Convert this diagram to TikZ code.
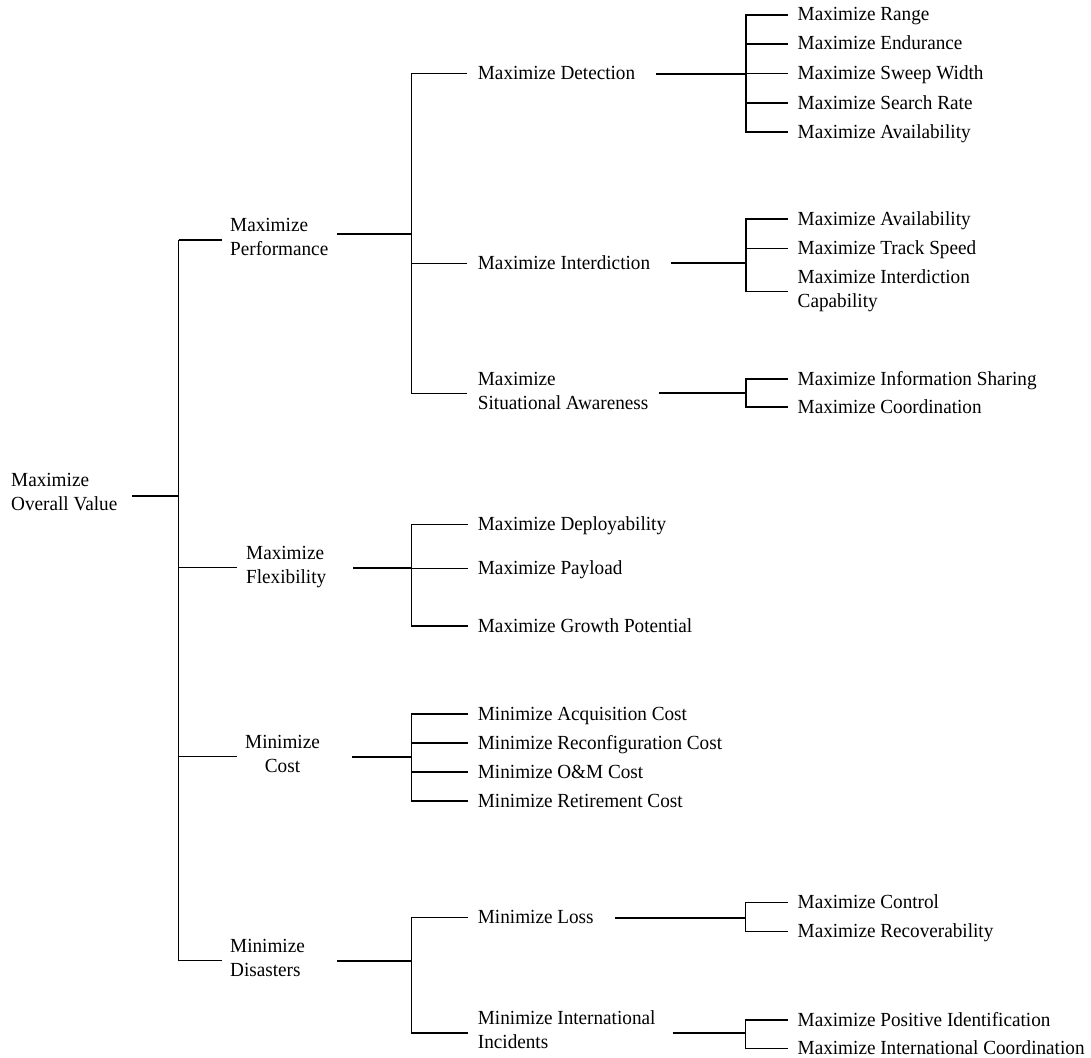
\documentclass[tikz,border=0pt]{standalone}
\usepackage{fontspec}
\setmainfont{Liberation Serif}[FakeStretch=0.96]
\newcommand\lblfont{\fontsize{20pt}{24pt}\selectfont}
% fixed line height so every label sits on its connector the same way
\newcommand\lblstrut{\vrule height 18pt depth 6pt width 0pt}

\begin{document}
\begin{tikzpicture}[x=1pt,y=-1pt,
  lbl/.style={anchor=west, inner sep=0pt, align=left, font=\lblfont,
              execute at begin node=\lblstrut, execute at end node=\lblstrut},
  br/.style={line width=1.45pt},
  conn/.style={line width=2pt}]
\useasboundingbox (0,0) rectangle (1091,1057);

% ---- labels: root and first level
\node[lbl] (root) at (11,494.5) {Maximize\\Overall Value};
\node[lbl] (perf) at (230,240) {Maximize\\Performance};
\node[lbl] (flex) at (246,567.5) {Maximize\\Flexibility};
\node[lbl,align=center] (cost) at (245,756.5) {Minimize\\Cost};
\node[lbl] (dis) at (230,960.5) {Minimize\\Disasters};

% ---- second level
\node[lbl] (det)  at (477.7,73.5)  {Maximize Detection};
\node[lbl] (intd) at (477.7,263.3) {Maximize Interdiction};
\node[lbl] (sa)   at (477.7,393.6) {Maximize\\Situational Awareness};
\node[lbl] (dep)  at (477.7,524.3) {Maximize Deployability};
\node[lbl] (pay)  at (477.7,568.3) {Maximize Payload};
\node[lbl] (grow) at (477.7,626)   {Maximize Growth Potential};
\node[lbl] (acq)  at (477.7,714)   {Minimize Acquisition Cost};
\node[lbl] (rec)  at (477.7,743)   {Minimize Reconfiguration Cost};
\node[lbl] (om)   at (477.7,772)   {Minimize O\&M Cost};
\node[lbl] (ret)  at (477.7,801)   {Minimize Retirement Cost};
\node[lbl] (loss) at (477.7,917.7) {Minimize Loss};
\node[lbl] (intl) at (477.7,1033)  {Minimize International\\Incidents};

% ---- leaves
\node[lbl] (range)  at (797.5,15)    {Maximize Range};
\node[lbl] (endur)  at (797.5,44)    {Maximize Endurance};
\node[lbl] (sweep)  at (797.5,73.5)  {Maximize Sweep Width};
\node[lbl] (srate)  at (797.5,103)   {Maximize Search Rate};
\node[lbl] (avla)   at (797.5,132)   {Maximize Availability};
\node[lbl] (avlb)   at (797.5,219)   {Maximize Availability};
\node[lbl] (track)  at (797.5,248.3) {Maximize Track Speed};
\node[lbl] (icap)   at (797.5,291.5) {Maximize Interdiction\\Capability};
\node[lbl] (info)   at (797.5,379)   {Maximize Information Sharing};
\node[lbl] (coord)  at (797.5,407)   {Maximize Coordination};
\node[lbl] (ctrl)   at (797.5,902.7) {Maximize Control};
\node[lbl] (recov)  at (797.5,931.7) {Maximize Recoverability};
\node[lbl] (posid)  at (797.5,1020)  {Maximize Positive Identification};
\node[lbl] (icoord) at (797.5,1048.3){Maximize International Coordination};

% ---- junction points
\coordinate (jR)   at (178.5,495.5);
\coordinate (jP)   at (411.5,233.7);
\coordinate (jF)   at (411.7,568.3);
\coordinate (jC)   at (411.7,757.3);
\coordinate (jD)   at (411.7,960.5);
\coordinate (jDet) at (746,73.5);
\coordinate (jInt) at (746,263.3);
\coordinate (jSA)  at (746,393.3);
\coordinate (jL)   at (745.7,917.7);
\coordinate (jI)   at (745.7,1033.3);

% ---- trunk
\draw[conn] (root.east |- jR) ++(15,0) -- (jR);
\draw[br] (jR |- perf.west) -- (jR |- dis.west);
\draw[br] (jR |- perf.west) -- ([xshift=-8pt]perf.west);
\draw[br] (jR |- flex.west) -- ([xshift=-9pt]flex.west);
\draw[br] (jR |- cost.west) -- ([xshift=-8pt]cost.west);
\draw[br] (jR |- dis.west)  -- ([xshift=-8pt]dis.west);

% ---- performance
\draw[conn] (perf.east |- jP) ++(9,0) -- (jP);
\draw[br] ([xshift=-11pt]det.west) -- (jP |- det.west) -- (jP |- sa.west) -- ([xshift=-11pt]sa.west);
\draw[br] (jP |- intd.west) -- ([xshift=-11pt]intd.west);

\draw[conn] (det.east |- jDet) ++(21,0) -- (jDet);
\draw[br] ([xshift=-9.2pt]range.west) -- (jDet |- range.west) -- (jDet |- avla.west) -- ([xshift=-9.2pt]avla.west);
\draw[br] (jDet |- endur.west) -- ([xshift=-9.2pt]endur.west);
\draw[br] (jDet |- sweep.west) -- ([xshift=-9.2pt]sweep.west);
\draw[br] (jDet |- srate.west) -- ([xshift=-9.2pt]srate.west);

\draw[conn] (intd.east |- jInt) ++(21,0) -- (jInt);
\draw[br] ([xshift=-9.2pt]avlb.west) -- (jInt |- avlb.west) -- (jInt |- icap.west) -- ([xshift=-9.2pt]icap.west);
\draw[br] (jInt |- track.west) -- ([xshift=-9.2pt]track.west);

\draw[conn] (sa.east |- jSA) ++(10,0) -- (jSA);
\draw[br] ([xshift=-9.2pt]info.west) -- (jSA |- info.west) -- (jSA |- coord.west) -- ([xshift=-9.2pt]coord.west);

% ---- flexibility
\draw[conn] (flex.east |- jF) ++(27,0) -- (jF);
\draw[br] ([xshift=-9.7pt]dep.west) -- (jF |- dep.west) -- (jF |- grow.west) -- ([xshift=-9.7pt]grow.west);
\draw[br] (jF |- pay.west) -- ([xshift=-9.7pt]pay.west);

% ---- cost
\draw[conn] (cost.east |- jC) ++(32,0) -- (jC);
\draw[br] ([xshift=-9.7pt]acq.west) -- (jC |- acq.west) -- (jC |- ret.west) -- ([xshift=-9.7pt]ret.west);
\draw[br] (jC |- rec.west) -- ([xshift=-9.7pt]rec.west);
\draw[br] (jC |- om.west)  -- ([xshift=-9.7pt]om.west);

% ---- disasters
\draw[conn] (dis.east |- jD) ++(32,0) -- (jD);
\draw[br] ([xshift=-9.4pt]loss.west) -- (jD |- loss.west) -- (jD |- intl.west) -- ([xshift=-9.4pt]intl.west);

\draw[conn] (loss.east |- jL) ++(21,0) -- (jL);
\draw[br] ([xshift=-9.2pt]ctrl.west) -- (jL |- ctrl.west) -- (jL |- recov.west) -- ([xshift=-9.2pt]recov.west);

\draw[conn] (intl.east |- jI) ++(17,0) -- (jI);
\draw[br] ([xshift=-9.2pt]posid.west) -- (jI |- posid.west) -- (jI |- icoord.west) -- ([xshift=-9.2pt]icoord.west);
\end{tikzpicture}
\end{document}
